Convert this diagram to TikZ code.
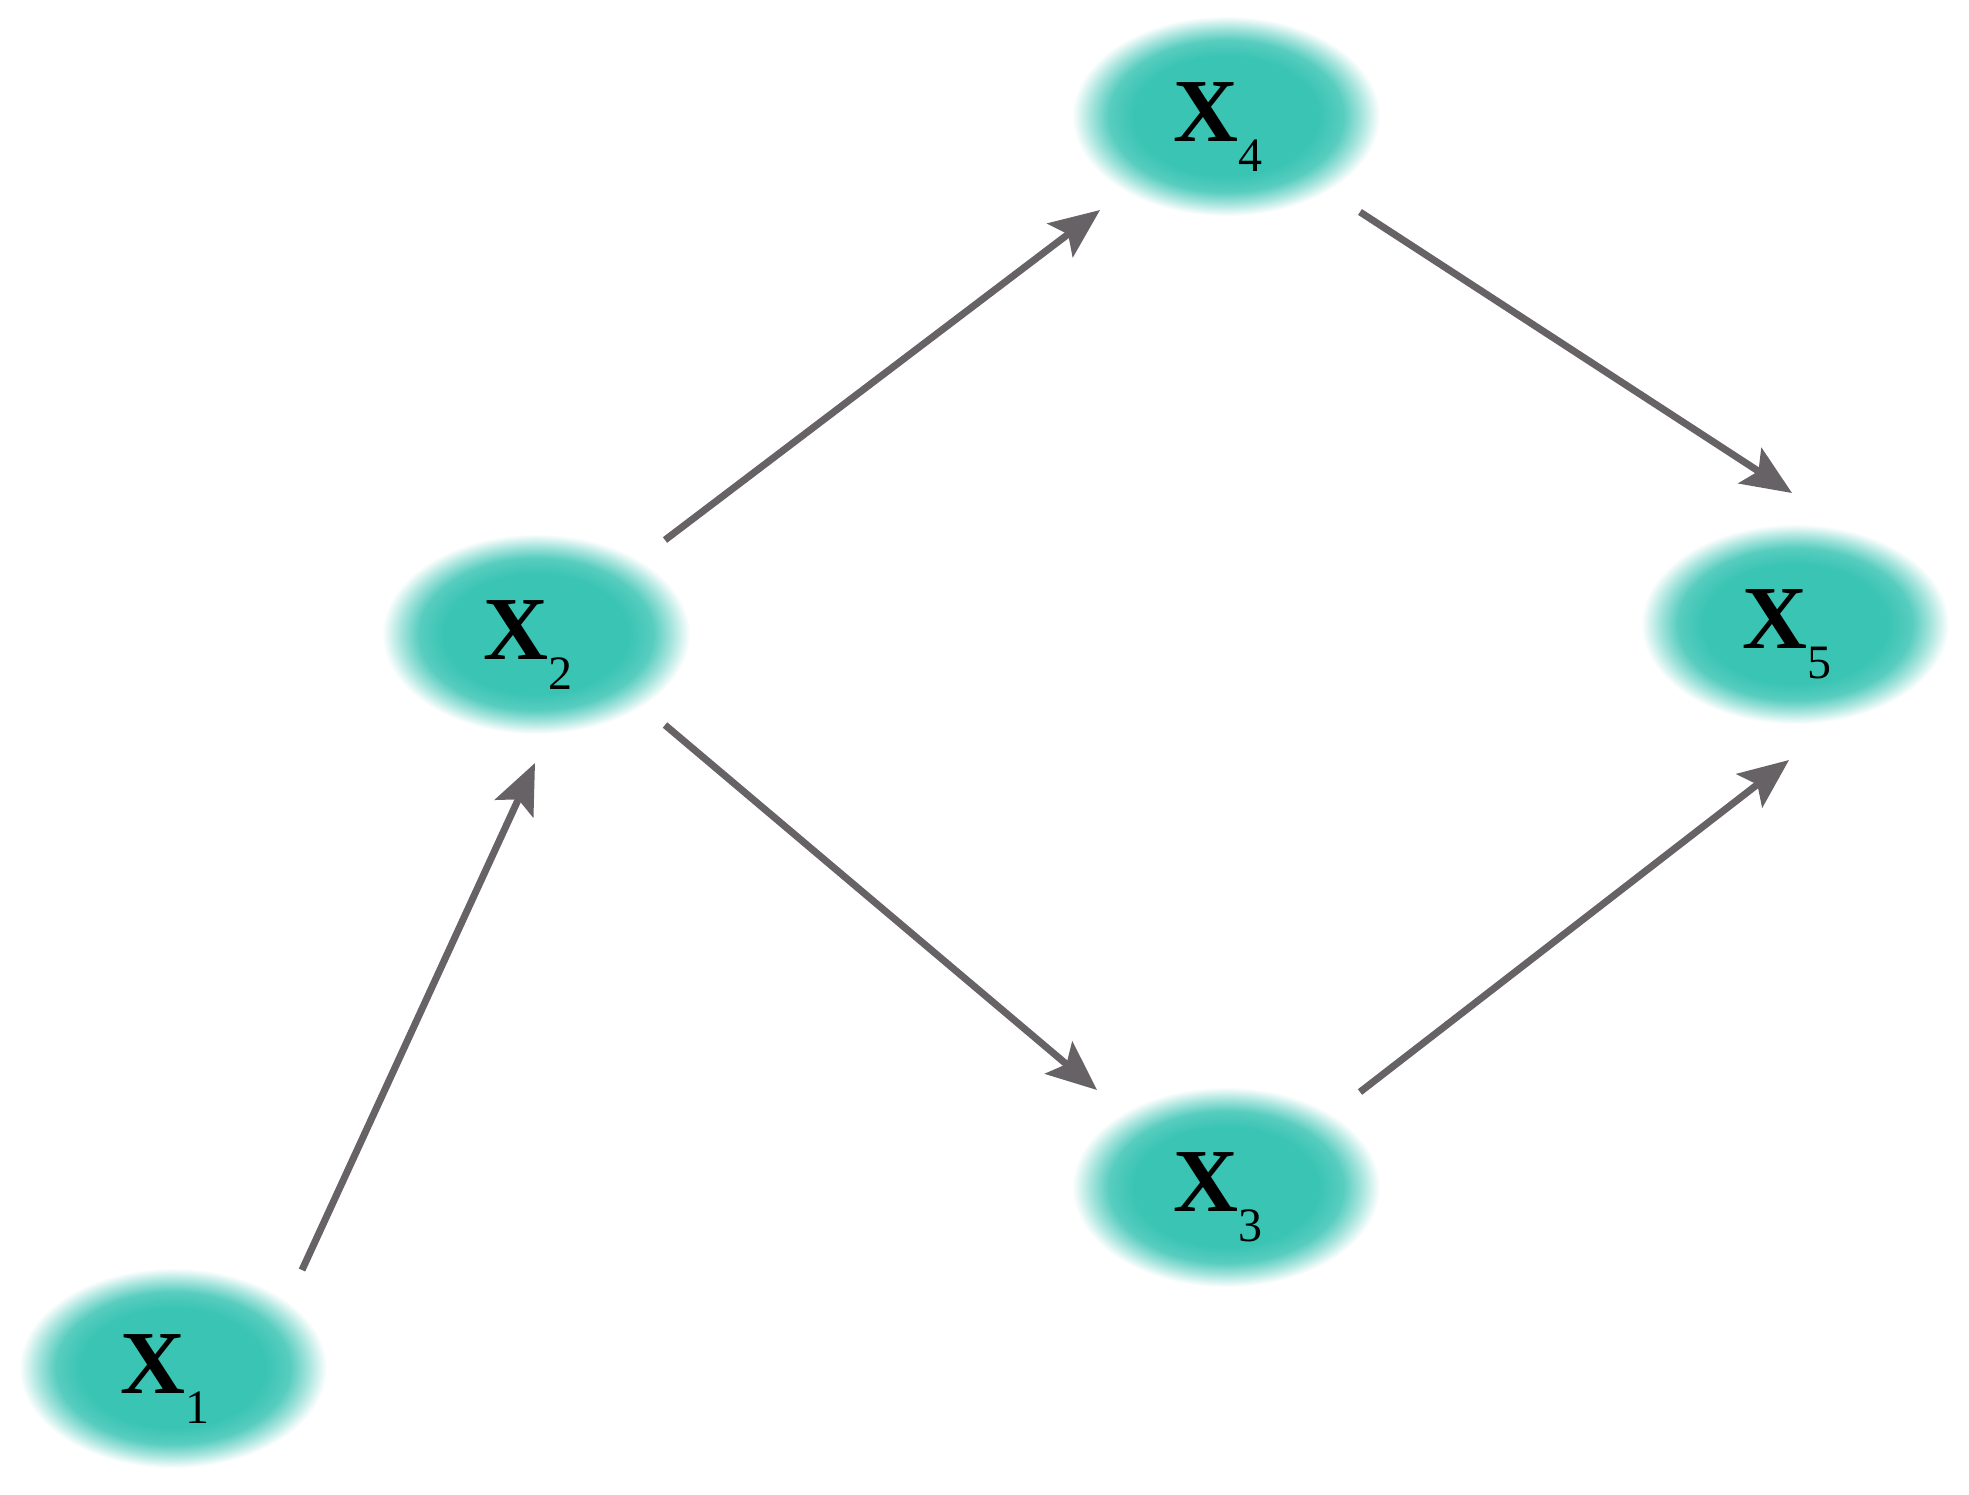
\documentclass[tikz,border=0pt]{standalone}
\usepackage{fontspec}
\setmainfont{Liberation Serif}
\usetikzlibrary{arrows.meta,calc,shapes.geometric}
\definecolor{blobteal}{RGB}{58,196,180}
\definecolor{arrgray}{RGB}{102,98,102}
\pgfdeclareradialshading{blobshade}{\pgfpoint{0bp}{0bp}}{%
  color(0bp)=(blobteal); color(15bp)=(blobteal); color(19bp)=(blobteal!85!white); color(22bp)=(blobteal!45!white); color(25bp)=(white); color(50bp)=(white)}
\newcommand{\xlab}[1]{\rule{0pt}{40pt}{\fontsize{45pt}{50pt}\selectfont\bfseries X}\raisebox{-15pt}{\fontsize{24pt}{28pt}\selectfont #1}\hspace*{8pt}}
\begin{document}
\begin{tikzpicture}[x=0.5pt,y=-0.5pt,
  blob/.style={ellipse, shading=blobshade, minimum width=154pt, minimum height=100pt, inner sep=0pt, text=black},
  arr/.style={draw=arrgray, line width=3.5pt, -{Stealth[length=25pt,width=21pt,inset=5pt]}}]
\useasboundingbox[fill=white] (0,0) rectangle (1969,1494);
\node[blob] (X1) at (173,1368) {\xlab{1}};
\node[blob] (X2) at (536,634) {\xlab{2}};
\node[blob] (X4) at (1226,116) {\xlab{4}};
\node[blob] (X3) at (1226,1187) {\xlab{3}};
\node[blob] (X5) at (1795,624) {\xlab{5}};
\draw[arr] ($(X1)+(129,-98)$) -- ($(X2)+(-1,129)$);
\draw[arr] ($(X2)+(129,-94)$) -- ($(X4)+(-126,94)$);
\draw[arr] ($(X4)+(134,96)$) -- ($(X5)+(-3,-131)$);
\draw[arr] ($(X2)+(129,91)$) -- ($(X3)+(-129,-97)$);
\draw[arr] ($(X3)+(134,-95)$) -- ($(X5)+(-6,136)$);
\end{tikzpicture}
\end{document}
